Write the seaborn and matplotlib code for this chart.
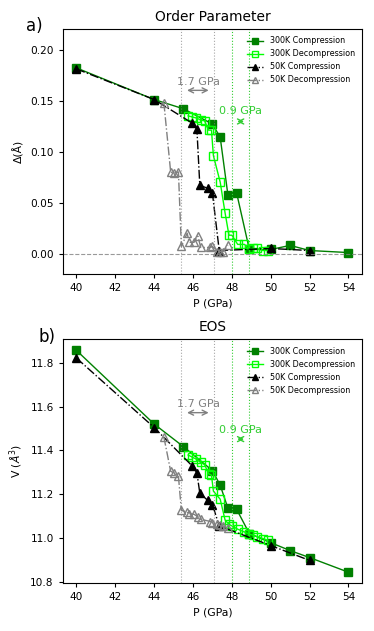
import numpy as np
import pandas as pd
import matplotlib
matplotlib.use('Agg')
import matplotlib.pyplot as plt
import seaborn as sns

# 300K compression
p_300c = [40, 44, 45.5, 47, 47.4, 47.8, 48.25, 48.9, 50, 51, 52, 54]
d_300c = [0.182, 0.151, 0.142, 0.127, 0.114, 0.057, 0.059, 0.004, 0.004, 0.008, 0.003, 0.001]
v_300c = [11.858, 11.521, 11.418, 11.308, 11.241, 11.135, 11.130, 11.02, 10.978, 10.942, 10.910, 10.843]

# 300K decompression
p_300d = [45.75, 45.95, 46.15, 46.4, 46.6, 46.8, 46.95, 47.05, 47.4, 47.65, 47.85, 48.0,
          48.3, 48.65, 48.9, 49.1, 49.3, 49.6, 49.85]
d_300d = [0.135, 0.134, 0.133, 0.131, 0.130, 0.121, 0.121, 0.096, 0.070, 0.040, 0.018, 0.018,
          0.009, 0.009, 0.004, 0.005, 0.005, 0.003, 0.003]
v_300d = [11.379, 11.370, 11.361, 11.345, 11.335, 11.294, 11.287, 11.214, 11.177, 11.082, 11.062, 11.055,
          11.040, 11.027, 11.017, 11.012, 11.006, 10.997, 10.989]

# 50K compression
p_50c = [40, 44, 45.95, 46.2, 46.35, 46.75, 47.0, 47.35, 50, 52]
d_50c = [0.181, 0.151, 0.128, 0.122, 0.067, 0.064, 0.059, 0.003, 0.005, 0.003]
v_50c = [11.823, 11.505, 11.330, 11.298, 11.205, 11.172, 11.152, 11.055, 10.965, 10.897]

# 50K decompression
p_50d = [44.5, 44.85, 45.0, 45.25, 45.4, 45.7, 45.8, 46.05, 46.25, 46.4, 46.9, 47.0,
         47.25, 47.4, 47.55, 47.8]
d_50d = [0.148, 0.080, 0.079, 0.080, 0.007, 0.020, 0.011, 0.011, 0.017, 0.006, 0.006, 0.007,
         0.002, 0.002, 0.002, 0.008]
v_50d = [11.462, 11.305, 11.298, 11.283, 11.126, 11.118, 11.111, 11.108, 11.097, 11.085, 11.075, 11.070,
         11.062, 11.058, 11.055, 11.045]

gray_lines = [45.4, 47.1]
green_lines = [48.0, 48.9]

series = [
    ('300K Compression', p_300c, d_300c, v_300c, dict(color='green', marker='s', ls='-', mfc='green', mec='green')),
    ('300K Decompression', p_300d, d_300d, v_300d, dict(color='lime', marker='s', ls='-', mfc='none', mec='lime')),
    ('50K Compression', p_50c, d_50c, v_50c, dict(color='black', marker='^', ls='-.', mfc='black', mec='black')),
    ('50K Decompression', p_50d, d_50d, v_50d, dict(color='gray', marker='^', ls='-.', mfc='none', mec='gray')),
]

fig = plt.figure(figsize=(3.74, 6.31), dpi=100)
ax1 = fig.add_axes([0.168, 0.5658, 0.80, 0.388])
ax2 = fig.add_axes([0.168, 0.0756, 0.80, 0.3867])

for ax, col in [(ax1, 2), (ax2, 3)]:
    for s in series:
        name, p, d, v, st = s
        df = pd.DataFrame({'P': p, 'y': s[col]})
        sns.lineplot(data=df, x='P', y='y', ax=ax, sort=False, estimator=None,
                     color=st['color'], linestyle=st['ls'], linewidth=1,
                     marker=st['marker'], markersize=5.5, markerfacecolor=st['mfc'],
                     markeredgecolor=st['mec'], markeredgewidth=1, label=name)
    for x in gray_lines:
        ax.axvline(x, color='gray', ls=':', lw=0.8, alpha=0.7)
    for x in green_lines:
        ax.axvline(x, color='limegreen', ls=':', lw=0.8)
    ax.legend(loc='upper right', frameon=False, fontsize=5.8, markerscale=0.85)
    ax.set_xlabel('P (GPa)', fontsize=7.8)
    ax.tick_params(labelsize=7.6, length=3)
    ax.set_xticks([40, 42, 44, 46, 48, 50, 52, 54])

# panel a
ax1.axhline(0, color='gray', ls='--', lw=0.8, alpha=0.8)
ax1.set_ylim(-0.02, 0.22)
ax1.set_yticks([0.0, 0.05, 0.10, 0.15, 0.20])
ax1.set_ylabel('Δ(Å)', fontsize=7.8)
ax1.set_title('Order Parameter', fontsize=9.9)
ax1.text(-0.124, 0.992, 'a)', transform=ax1.transAxes, fontsize=12, va='baseline')
ax1.annotate('', xy=(45.55, 0.160), xytext=(46.95, 0.160),
             arrowprops=dict(arrowstyle='<->', color='gray', lw=1, mutation_scale=9))
ax1.text(46.3, 0.163, '1.7 GPa', color='gray', fontsize=8, ha='center', va='bottom')
ax1.annotate('', xy=(48.13, 0.1295), xytext=(48.77, 0.1295),
             arrowprops=dict(arrowstyle='<->', color='limegreen', lw=1, mutation_scale=9))
ax1.text(48.45, 0.1345, '0.9 GPa', color='limegreen', fontsize=8, ha='center', va='bottom')

# panel b
ax2.set_ylabel('V ($\\AA^3$)', fontsize=7.8)
ax2.set_title('EOS', fontsize=9.9)
ax2.set_yticks([10.8, 11.0, 11.2, 11.4, 11.6, 11.8])
ax2.text(-0.08, 0.989, 'b)', transform=ax2.transAxes, fontsize=12, va='baseline')
ax2.annotate('', xy=(45.55, 11.573), xytext=(46.95, 11.573),
             arrowprops=dict(arrowstyle='<->', color='gray', lw=1, mutation_scale=9))
ax2.text(46.3, 11.59, '1.7 GPa', color='gray', fontsize=8, ha='center', va='bottom')
ax2.annotate('', xy=(48.13, 11.452), xytext=(48.77, 11.452),
             arrowprops=dict(arrowstyle='<->', color='limegreen', lw=1, mutation_scale=9))
ax2.text(48.45, 11.472, '0.9 GPa', color='limegreen', fontsize=8, ha='center', va='bottom')

fig.savefig('out.png', dpi=100)
